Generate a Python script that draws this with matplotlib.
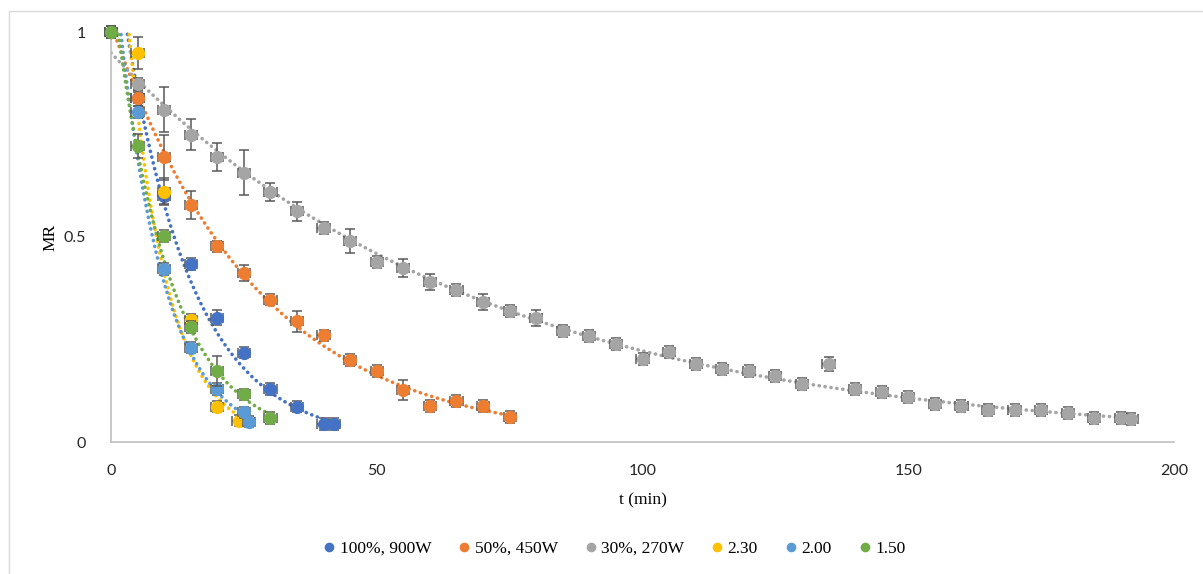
import numpy as np
import matplotlib.pyplot as plt
from matplotlib.patches import Rectangle

# drying time (min) and moisture ratio for each condition
t_900 = [0, 5, 10, 15, 20, 25, 30, 35, 40, 42]
mr_900 = [1, 0.84, 0.60, 0.434, 0.303, 0.218, 0.129, 0.086, 0.044, 0.044]
err_900 = [0.01, 0.01, 0.02, 0.01, 0.018, 0.01, 0.008, 0.008, 0.008, 0.008]

t_450 = [0, 5, 10, 15, 20, 25, 30, 35, 40, 45, 50, 55, 60, 65, 70, 75]
mr_450 = [1, 0.839, 0.695, 0.578, 0.477, 0.412, 0.347, 0.294, 0.26, 0.2,
          0.173, 0.127, 0.088, 0.1, 0.088, 0.061]
err_450 = [0.01, 0.02, 0.055, 0.035, 0.012, 0.02, 0.01, 0.025, 0.01, 0.01,
           0.01, 0.025, 0.01, 0.01, 0.01, 0.01]

t_270 = list(range(0, 195, 5)) + [192]
mr_270 = [1, 0.874, 0.81, 0.75, 0.695, 0.657, 0.61, 0.563, 0.522, 0.49,
          0.439, 0.425, 0.39, 0.371, 0.341, 0.32, 0.302, 0.271, 0.259, 0.239,
          0.202, 0.22, 0.19, 0.178, 0.173, 0.161, 0.141, 0.19, 0.129, 0.122,
          0.11, 0.093, 0.088, 0.078, 0.078, 0.078, 0.071, 0.059, 0.059, 0.056]
err_270 = [0.01, 0.015, 0.055, 0.038, 0.035, 0.054, 0.022, 0.023, 0.012, 0.03,
           0.01, 0.022, 0.02, 0.01, 0.02, 0.015, 0.02, 0.01, 0.01, 0.01,
           0.01, 0.012, 0.01, 0.01, 0.01, 0.01, 0.01, 0.018, 0.01, 0.01,
           0.01, 0.01, 0.01, 0.01, 0.01, 0.01, 0.01, 0.01, 0.01, 0.01]

t_230 = [0, 5, 10, 15, 20, 24]
mr_230 = [1, 0.949, 0.61, 0.297, 0.086, 0.052]
err_230 = [0.01, 0.04, 0.033, 0.01, 0.01, 0.01]

t_200 = [0, 5, 10, 15, 20, 25, 26]
mr_200 = [1, 0.805, 0.422, 0.23, 0.129, 0.072, 0.05]
err_200 = [0.01, 0.01, 0.012, 0.01, 0.01, 0.01, 0.01]

t_150 = [0, 5, 10, 15, 20, 25, 30]
mr_150 = [1, 0.722, 0.502, 0.281, 0.173, 0.116, 0.059]
err_150 = [0.01, 0.03, 0.015, 0.01, 0.037, 0.01, 0.01]

labels = ["100%, 900W", "50%, 450W", "30%, 270W", "2.30", "2.00", "1.50"]
colors = ["#4472C4", "#ED7D31", "#A5A5A5", "#FFC000", "#5B9BD5", "#70AD47"]

series = [(t_900, mr_900, err_900), (t_450, mr_450, err_450),
          (t_270, mr_270, err_270), (t_230, mr_230, err_230),
          (t_200, mr_200, err_200), (t_150, mr_150, err_150)]

serif = "Liberation Serif"
sans = "Lato"

fig = plt.figure(figsize=(12.03, 5.74), dpi=100)
fig.patches.append(Rectangle((9 / 1203, -0.1), 1.2, 1 - 11 / 574 + 0.1,
                             transform=fig.transFigure, fill=False,
                             edgecolor="#d9d9d9", linewidth=1))
ax = fig.add_axes([111 / 1203, 1 - 442 / 574, (1174 - 111) / 1203, 410 / 574])

handles = []
for i, ((t, mr, err), col, lab) in enumerate(zip(series, colors, labels)):
    t = np.array(t, float)
    mr = np.array(mr, float)
    err = np.maximum(np.array(err, float), 0.014)
    # exponential trendline (least squares on ln MR)
    k, lna = np.polyfit(t, np.log(mr), 1)
    tt = np.linspace(0, t[-1], 300)
    ax.plot(tt, np.exp(lna) * np.exp(k * tt), color=col, lw=2.6,
            ls=(0, (0.05, 1.6)), dash_capstyle="round", zorder=2 + i * 0.1)
    ax.errorbar(t, mr, yerr=err, xerr=1.15, fmt="none", ecolor="#595959",
                elinewidth=1.1, capsize=3.5, capthick=1.1,
                zorder=2.95 + i * 0.1, clip_on=False)
    h, = ax.plot(t, mr, "o", color=col, ms=8.5, zorder=3 + i * 0.1,
                 clip_on=False, label=lab)
    handles.append(h)

ax.set_xlim(0, 200)
ax.set_ylim(0, 1)
ax.set_xticks([0, 50, 100, 150, 200])
ax.set_yticks([0, 0.5, 1])
ax.set_yticklabels(["0", "0.5", "1"])
ax.tick_params(length=0, labelsize=11.5, pad=16)
ax.tick_params(axis="y", pad=18)
for lab in ax.get_xticklabels() + ax.get_yticklabels():
    lab.set_fontfamily(sans)
    lab.set_color("#262626")
for s in ["top", "right"]:
    ax.spines[s].set_visible(False)
ax.spines["left"].set_color("#bfbfbf")
ax.spines["bottom"].set_color("#bfbfbf")
ax.spines["left"].set_linewidth(1.2)
ax.spines["bottom"].set_linewidth(1.2)

ax.set_xlabel("t (min)", fontfamily=serif, fontsize=12.5, labelpad=10)
ax.set_ylabel("MR", fontfamily=serif, fontsize=12.5, labelpad=4)

fig.legend(handles=handles, labels=labels, loc="center", ncol=6,
           bbox_to_anchor=(0.511, 1 - 549 / 574), frameon=False,
           prop={"family": serif, "size": 12.5}, markerscale=0.7,
           handlelength=0.6, handletextpad=0.3, columnspacing=1.6)

plt.savefig("out.png", dpi=100)
